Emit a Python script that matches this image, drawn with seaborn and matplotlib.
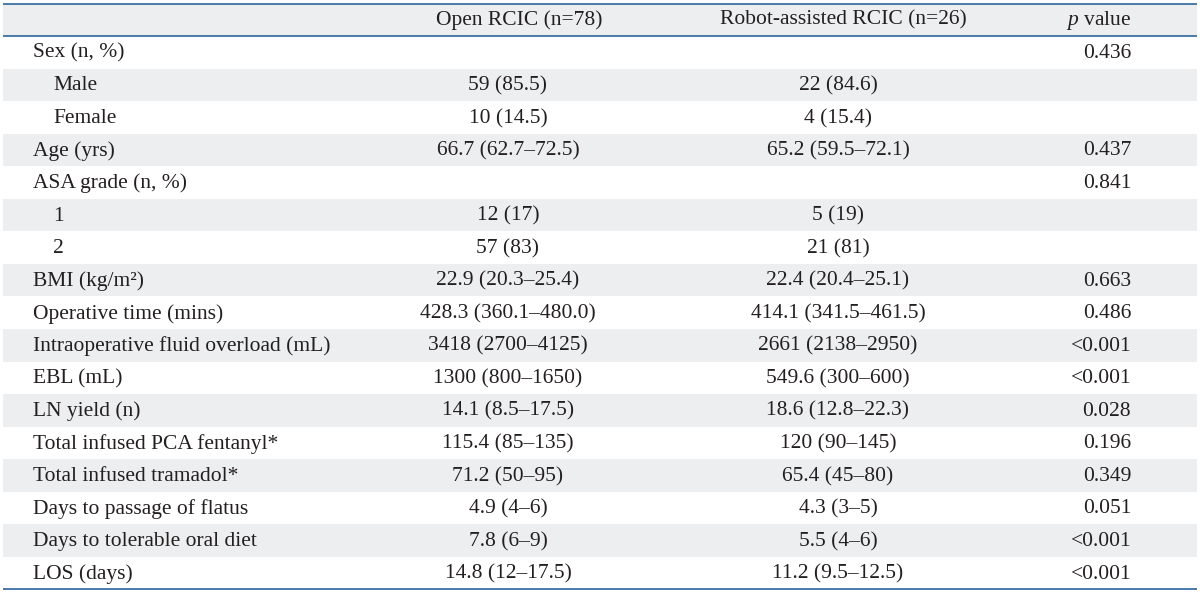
"""
Table 1 style figure: open vs robot-assisted RCIC, drawn as a striped table.
"""
import matplotlib
matplotlib.use("Agg")
import matplotlib.pyplot as plt
import seaborn as sns

# ---- table content ----
HEADERS = ["", "Open RCIC (n=78)", "Robot-assisted RCIC (n=26)", "$p$ value"]
ROW_LABELS = [
    "Sex (n, %)", "Male", "Female", "Age (yrs)", "ASA grade (n, %)", "1", "2",
    "BMI (kg/m²)", "Operative time (mins)", "Intraoperative fluid overload (mL)",
    "EBL (mL)", "LN yield (n)", "Total infused PCA fentanyl*",
    "Total infused tramadol*", "Days to passage of flatus",
    "Days to tolerable oral diet", "LOS (days)",
]
INDENTED = [False, True, True, False, False, True, True,
            False, False, False, False, False, False, False, False, False, False]
OPEN_VALUES = [
    "", "59 (85.5)", "10 (14.5)", "66.7 (62.7–72.5)", "", "12 (17)", "57 (83)",
    "22.9 (20.3–25.4)", "428.3 (360.1–480.0)", "3418 (2700–4125)",
    "1300 (800–1650)", "14.1 (8.5–17.5)", "115.4 (85–135)", "71.2 (50–95)",
    "4.9 (4–6)", "7.8 (6–9)", "14.8 (12–17.5)",
]
ROBOT_VALUES = [
    "", "22 (84.6)", "4 (15.4)", "65.2 (59.5–72.1)", "", "5 (19)", "21 (81)",
    "22.4 (20.4–25.1)", "414.1 (341.5–461.5)", "2661 (2138–2950)",
    "549.6 (300–600)", "18.6 (12.8–22.3)", "120 (90–145)", "65.4 (45–80)",
    "4.3 (3–5)", "5.5 (4–6)", "11.2 (9.5–12.5)",
]
P_VALUES = [
    "0.436", "", "", "0.437", "0.841", "", "",
    "0.663", "0.486", "<0.001", "<0.001", "0.028", "0.196", "0.349",
    "0.051", "<0.001", "<0.001",
]

# ---- style ----
sns.set_theme(style="white")
plt.rcParams["font.family"] = ["Liberation Serif", "DejaVu Serif"]
plt.rcParams["mathtext.fontset"] = "custom"
plt.rcParams["mathtext.rm"] = "Liberation Serif"
plt.rcParams["mathtext.it"] = "Liberation Serif:italic"

STRIPE = "#edeeef"
RULE = "#3b6fa5"
INK = "#231f20"
FS = 15.5

TOP = 4.0
HEAD_H = 32.0
ROW_H = 32.55
X0, X1 = 3, 1197
COL_LABEL, COL_INDENT = 33, 53
COL_OPEN, COL_ROBOT, COL_P = 508, 838, 1131

fig = plt.figure(figsize=(12, 5.94), dpi=100)
ax = fig.add_axes([0, 0, 1, 1])
ax.set_xlim(0, 1200)
ax.set_ylim(594, 0)
ax.axis("off")

# header band
ax.fill_between([X0, X1], TOP, TOP + HEAD_H, color=STRIPE, lw=0)
hy = TOP + HEAD_H / 2
ax.text(519, hy, HEADERS[1], ha="center", va="center", fontsize=FS, color=INK)
ax.text(843, hy, HEADERS[2], ha="center", va="center", fontsize=FS, color=INK)
ax.text(COL_P, hy, HEADERS[3], ha="right", va="center", fontsize=FS, color=INK)

body_top = TOP + HEAD_H
for i, label in enumerate(ROW_LABELS):
    y0 = body_top + i * ROW_H
    if i % 2 == 1:
        ax.fill_between([X0, X1], y0, y0 + ROW_H, color=STRIPE, lw=0)
    yc = y0 + ROW_H / 2 + 1
    x_lab = COL_INDENT if INDENTED[i] else COL_LABEL
    ax.text(x_lab, yc, label, ha="left", va="center", fontsize=FS, color=INK)
    ax.text(COL_OPEN, yc, OPEN_VALUES[i], ha="center", va="center", fontsize=FS, color=INK)
    ax.text(COL_ROBOT, yc, ROBOT_VALUES[i], ha="center", va="center", fontsize=FS, color=INK)
    ax.text(COL_P, yc, P_VALUES[i], ha="right", va="center", fontsize=FS, color=INK)

body_bottom = body_top + len(ROW_LABELS) * ROW_H
for y in (TOP, body_top, body_bottom):
    ax.plot([X0, X1], [y, y], color=RULE, lw=1.3, solid_capstyle="butt")

fig.savefig("out.png", dpi=100, facecolor="white")
